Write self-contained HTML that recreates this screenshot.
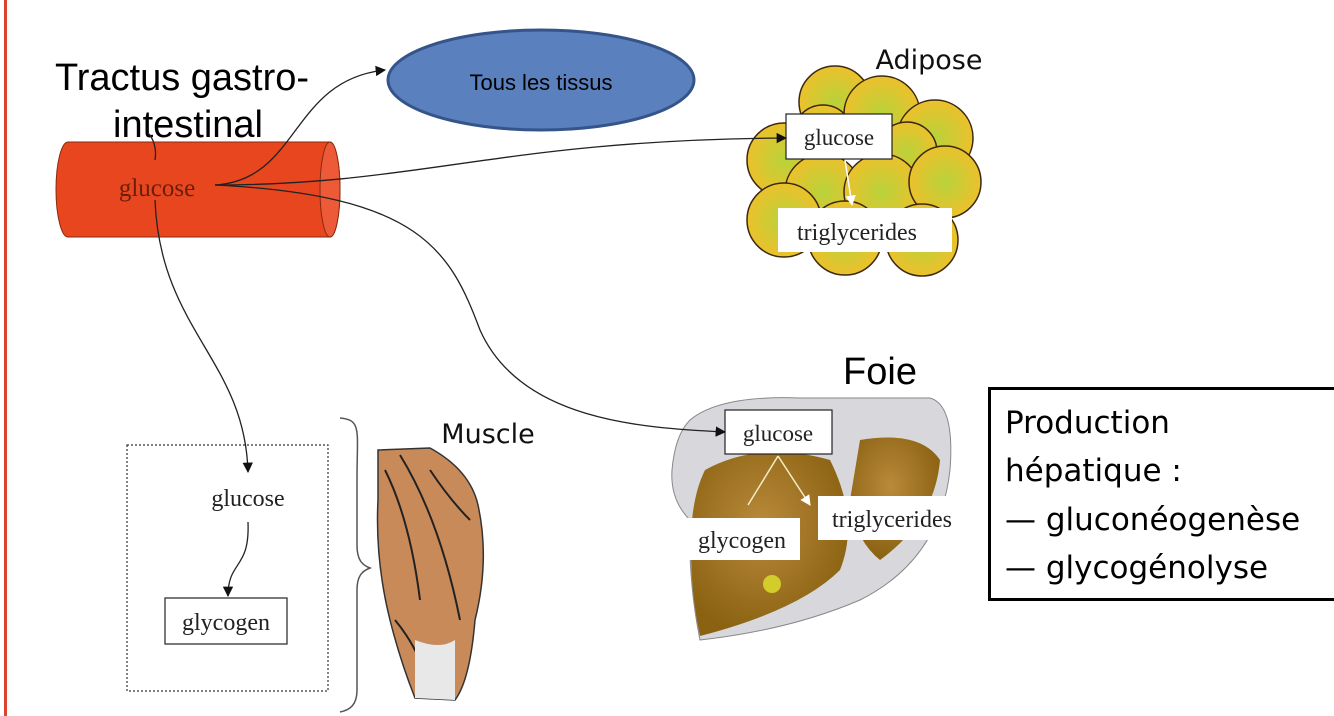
<!DOCTYPE html>
<html><head><meta charset="utf-8"><style>
html,body{margin:0;padding:0;background:#fff;}
svg{display:block;}
</style></head><body>
<svg width="1334" height="716" viewBox="0 0 1334 716" xmlns="http://www.w3.org/2000/svg">
<defs>
<marker id="ar" viewBox="0 0 10 10" refX="9" refY="5" markerWidth="8" markerHeight="8" orient="auto"><path d="M0,0L10,5L0,10z" fill="#111"/></marker>
<marker id="aw" viewBox="0 0 10 10" refX="9" refY="5" markerWidth="7" markerHeight="7" orient="auto"><path d="M0,0L10,5L0,10z" fill="#fff"/></marker>
<radialGradient id="fat" cx="50%" cy="50%" r="50%"><stop offset="0" stop-color="#b8d23a"/><stop offset="1" stop-color="#ecc12c"/></radialGradient>
<radialGradient id="liv" cx="45%" cy="40%" r="60%"><stop offset="0" stop-color="#b98a3a"/><stop offset="1" stop-color="#8a6212"/></radialGradient>
</defs>
<rect width="1334" height="716" fill="#fff"/>
<rect x="4" y="0" width="3" height="716" fill="#d9452e"/>

<!-- cylinder -->
<path d="M68,142 L330,142 A10,47.5 0 0 1 330,237 L68,237 A12,47.5 0 0 1 68,142 Z" fill="#e8461f" stroke="#8a2a10" stroke-width="1"/>
<ellipse cx="330" cy="189.5" rx="10" ry="47.5" fill="#ec5a38" stroke="#8a2a10" stroke-width="1"/>
<text x="157" y="196" font-family="Liberation Serif, serif" font-size="25" fill="#6a1e0a" text-anchor="middle">glucose</text>

<text x="182" y="90" font-family="Liberation Sans, sans-serif" font-size="38" text-anchor="middle">Tractus gastro-</text>
<text x="188" y="137" font-family="Liberation Sans, sans-serif" font-size="38" text-anchor="middle">intestinal</text>

<!-- ellipse -->
<ellipse cx="541" cy="80" rx="153" ry="50" fill="#5a80be" stroke="#34548a" stroke-width="3"/>
<text x="541" y="90" font-family="Liberation Sans, sans-serif" font-size="22" text-anchor="middle">Tous les tissus</text>

<!-- muscle box -->
<rect x="127" y="445" width="201" height="246" fill="none" stroke="#333" stroke-width="1.2" stroke-dasharray="2,2"/>
<text x="248" y="506" font-family="Liberation Serif, serif" font-size="24" text-anchor="middle" fill="#222">glucose</text>
<rect x="165" y="598" width="122" height="46" fill="#fff" stroke="#222" stroke-width="1.2"/>
<text x="226" y="630" font-family="Liberation Serif, serif" font-size="24" text-anchor="middle" fill="#222">glycogen</text>
<path d="M340,418 C362,420 357,430 357,480 L357,545 C357,560 362,565 370,568 C362,571 357,576 357,590 L357,690 C357,705 350,710 340,712" fill="none" stroke="#555" stroke-width="1.5"/>

<!-- muscle figure -->
<g>
<path d="M378,450 L430,448 Q470,470 478,505 Q490,560 475,620 Q470,680 455,700 L415,698 Q400,660 390,620 Q375,560 378,500 Z" fill="#c98a5a" stroke="#333" stroke-width="1.5"/>
<path d="M385,470 Q410,520 420,600 M400,455 Q440,520 460,620 M430,470 Q450,500 470,520 M395,620 Q420,650 430,690" stroke="#222" stroke-width="2" fill="none"/>
<path d="M415,640 Q440,650 455,640 L455,700 L415,698 Z" fill="#e8e8e8"/>
</g>
<text x="488" y="443" font-family="DejaVu Sans, sans-serif" font-size="27" text-anchor="middle" fill="#111">Muscle</text>

<!-- adipose -->
<g fill="url(#fat)" stroke="#3a2a10" stroke-width="1.5">
<circle cx="835" cy="102" r="36"/>
<circle cx="882" cy="114" r="38"/>
<circle cx="935" cy="138" r="38"/>
<circle cx="823" cy="135" r="30"/>
<circle cx="907" cy="152" r="30"/>
<circle cx="784" cy="160" r="37"/>
<circle cx="823" cy="192" r="38"/>
<circle cx="882" cy="192" r="38"/>
<circle cx="945" cy="182" r="36"/>
<circle cx="784" cy="220" r="37"/>
<circle cx="845" cy="238" r="37"/>
<circle cx="922" cy="240" r="36"/>
</g>
<rect x="786" y="114" width="106" height="45" fill="#fff" stroke="#222" stroke-width="1.2"/>
<text x="839" y="145" font-family="Liberation Serif, serif" font-size="23" text-anchor="middle" fill="#222">glucose</text>
<path d="M845,160 L852,205" stroke="#fff" stroke-width="1.5" marker-end="url(#aw)"/>
<rect x="778" y="208" width="174" height="44" fill="#fff"/>
<text x="857" y="240" font-family="Liberation Serif, serif" font-size="24" text-anchor="middle" fill="#222">triglycerides</text>
<text x="929" y="69" font-family="DejaVu Sans, sans-serif" font-size="27" text-anchor="middle" fill="#111">Adipose</text>

<!-- liver -->
<path d="M690,420 Q720,395 800,398 L930,398 Q955,405 950,470 Q940,560 860,600 Q790,630 700,640 Q688,580 690,520 Q670,500 672,470 Q675,435 690,420 Z" fill="#d8d8dc" stroke="#888" stroke-width="1"/>
<path d="M705,470 Q760,440 830,460 Q860,520 840,570 Q800,610 700,636 Q688,580 692,520 Q695,490 705,470 Z" fill="url(#liv)"/>
<path d="M860,440 Q920,430 940,460 Q935,520 880,560 Q855,540 850,500 Z" fill="url(#liv)"/>
<ellipse cx="772" cy="584" rx="9" ry="9" fill="#d4cc2a"/>
<rect x="725" y="410" width="107" height="44" fill="#fff" stroke="#222" stroke-width="1.2"/>
<text x="778" y="441" font-family="Liberation Serif, serif" font-size="23" text-anchor="middle" fill="#222">glucose</text>
<path d="M778,456 L748,505 M778,456 L810,505" stroke="#f5eec8" stroke-width="1.5" fill="none" marker-end="url(#aw)"/>
<rect x="685" y="518" width="115" height="42" fill="#fff"/>
<text x="742" y="548" font-family="Liberation Serif, serif" font-size="24" text-anchor="middle" fill="#222">glycogen</text>
<rect x="818" y="496" width="145" height="44" fill="#fff"/>
<text x="892" y="527" font-family="Liberation Serif, serif" font-size="24" text-anchor="middle" fill="#222">triglycerides</text>
<text x="880" y="384" font-family="Liberation Sans, sans-serif" font-size="38" text-anchor="middle">Foie</text>

<!-- connectors (on top) -->
<g fill="none" stroke="#222" stroke-width="1.3">
<path d="M215,185 C300,180 290,80 385,70" marker-end="url(#ar)"/>
<path d="M215,185 C420,185 500,140 786,138" marker-end="url(#ar)"/>
<path d="M215,185 C420,195 450,250 480,330 C520,420 640,428 725,432" marker-end="url(#ar)"/>
<path d="M155,200 C160,330 245,360 248,472" marker-end="url(#ar)"/>
<path d="M155,160 C157,148 153,138 148,133"/>
<path d="M248,522 C250,570 228,560 228,596" marker-end="url(#ar)"/>
</g>

<!-- production box -->
<rect x="989.5" y="388.5" width="350" height="211" fill="#fff" stroke="#000" stroke-width="3"/>
<g font-family="DejaVu Sans, sans-serif" font-size="31" fill="#000">
<text x="1005" y="433">Production</text>
<text x="1005" y="481">hépatique :</text>
<text x="1005" y="530">— gluconéogenèse</text>
<text x="1005" y="578">— glycogénolyse</text>
</g>
</svg>
</body></html>
